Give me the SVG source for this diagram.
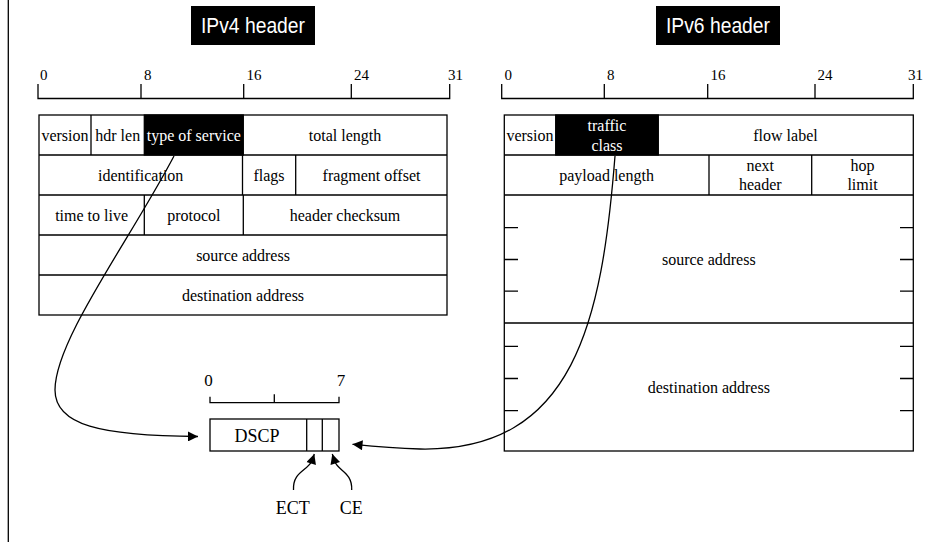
<svg xmlns="http://www.w3.org/2000/svg" width="951" height="542" viewBox="0 0 951 542">
<style>
.ln{stroke:#000;stroke-width:1.3;fill:none}
.cell{stroke:#000;stroke-width:1.3;fill:#fff}
.blk{stroke:#000;stroke-width:1.3;fill:#000}
.t{font-family:"Liberation Serif","Times New Roman",serif;font-size:16px;fill:#000;text-anchor:middle}
.tw{fill:#fff}
.r{font-family:"Liberation Serif","Times New Roman",serif;font-size:15px;fill:#000}
.d{font-family:"Liberation Serif","Times New Roman",serif;font-size:18px;fill:#000;text-anchor:middle}
.title{font-family:"Liberation Sans",Arial,sans-serif;font-size:22px;fill:#fff}
</style>
<defs>
<marker id="ah" viewBox="0 0 10 10" refX="10" refY="5" markerWidth="12" markerHeight="10" markerUnits="userSpaceOnUse" orient="auto">
<path d="M0,0 L10,5 L0,10 z" fill="#000"/>
</marker>
</defs>
<rect width="951" height="542" fill="#fff"/>
<line x1="8.3" y1="0" x2="8.3" y2="542" class="ln"/>

<g id="ipv4-title">
<rect x="191" y="6" width="124" height="39" fill="#000"/>
<text x="201" y="32.5" class="title" textLength="104" lengthAdjust="spacingAndGlyphs">IPv4 header</text>
</g>
<g id="ipv6-title">
<rect x="656" y="6" width="124" height="39" fill="#000"/>
<text x="666" y="32.5" class="title" textLength="104" lengthAdjust="spacingAndGlyphs">IPv6 header</text>
</g>

<g id="ipv4-ruler">
<path class="ln" d="M38,84 V98.5 H449.7 V84 M141,84 V98.5 M243.7,84 V98.5 M351.3,84 V98.5"/>
<text x="40" y="80" class="r">0</text>
<text x="144" y="80" class="r">8</text>
<text x="246.5" y="80" class="r">16</text>
<text x="354" y="80" class="r">24</text>
<text x="448" y="80" class="r">31</text>
</g>
<g id="ipv6-ruler">
<path class="ln" d="M501.7,84 V98.5 H913.3 V84 M604.3,84 V98.5 M707.7,84 V98.5 M815,84 V98.5"/>
<text x="504.5" y="80" class="r">0</text>
<text x="607" y="80" class="r">8</text>
<text x="710.5" y="80" class="r">16</text>
<text x="817.5" y="80" class="r">24</text>
<text x="908" y="80" class="r">31</text>
</g>

<g id="ipv4-header">
<rect x="39" y="115" width="408" height="200" class="cell"/>
<rect x="144.3" y="115" width="99" height="40" class="blk"/>
<path class="ln" d="M39,155 H447 M39,195 H447 M39,235 H447 M39,275 H447 M91,115 V155 M242.5,155 V195 M295.7,155 V195 M144.3,195 V235 M243.3,195 V235"/>
<text x="65" y="140.5" class="t">version</text>
<text x="117.7" y="140.5" class="t">hdr len</text>
<text x="193.8" y="140.5" class="t tw">type of service</text>
<text x="345" y="140.5" class="t">total length</text>
<text x="140.7" y="180.5" class="t">identification</text>
<text x="269" y="180.5" class="t">flags</text>
<text x="371.5" y="180.5" class="t">fragment offset</text>
<text x="91.6" y="220.5" class="t">time to live</text>
<text x="193.8" y="220.5" class="t">protocol</text>
<text x="345" y="220.5" class="t">header checksum</text>
<text x="243" y="260.5" class="t">source address</text>
<text x="243" y="300.5" class="t">destination address</text>
</g>

<g id="ipv6-header">
<rect x="504.3" y="115" width="409" height="336" class="cell"/>
<rect x="555.7" y="115" width="102.6" height="40" class="blk"/>
<path class="ln" d="M504.3,155 H913.3 M504.3,195 H913.3 M504.3,323 H913.3 M709,155 V195 M811.7,155 V195"/>
<path class="ln" d="M504.3,227.7 H518 M504.3,259.5 H518 M504.3,291.2 H518 M504.3,346.3 H518 M504.3,378.5 H518 M504.3,410.7 H518 M900,227.7 H913.3 M900,259.5 H913.3 M900,291.2 H913.3 M900,346.3 H913.3 M900,378.5 H913.3 M900,410.7 H913.3"/>
<text x="530" y="140.5" class="t">version</text>
<text x="607" y="131" class="t tw">traffic</text>
<text x="607" y="150.5" class="t tw">class</text>
<text x="785.5" y="140.5" class="t">flow label</text>
<text x="606.6" y="181" class="t">payload length</text>
<text x="760.3" y="170.5" class="t">next</text>
<text x="760.3" y="190" class="t">header</text>
<text x="862.5" y="170.5" class="t">hop</text>
<text x="862.5" y="190" class="t">limit</text>
<text x="708.8" y="265" class="t">source address</text>
<text x="708.8" y="393" class="t">destination address</text>
</g>

<g id="dscp">
<path class="ln" d="M210,396.7 V402.7 H339 V396.7 M274.3,394.3 V402.7"/>
<text x="208.5" y="386" class="d" style="font-size:17px">0</text>
<text x="341" y="386" class="d" style="font-size:17px">7</text>
<rect x="210" y="419" width="129" height="32" class="cell"/>
<path class="ln" d="M306.7,419 V451 M322.3,419 V451"/>
<text x="257" y="442" class="d">DSCP</text>
</g>
<g id="ect-label">
<text x="292.8" y="513.5" class="d">ECT</text>
</g>
<g id="ce-label">
<text x="351.2" y="513.5" class="d">CE</text>
</g>

<g id="connectors">
<path class="ln" d="M174,156 C130,240 55,340 55,390 C55,425 100,436 198,436.5" marker-end="url(#ah)"/>
<path class="ln" d="M615,156 C602,320 575,452 420,449 C390,448 370,446 352.5,444.3" marker-end="url(#ah)"/>
<path class="ln" d="M293.5,490 C292.5,472 307,471 312,461 L314.3,454" marker-end="url(#ah)"/>
<path class="ln" d="M351.7,490 C352.5,472 338,471 334.5,461 L332.3,454" marker-end="url(#ah)"/>
</g>
</svg>
